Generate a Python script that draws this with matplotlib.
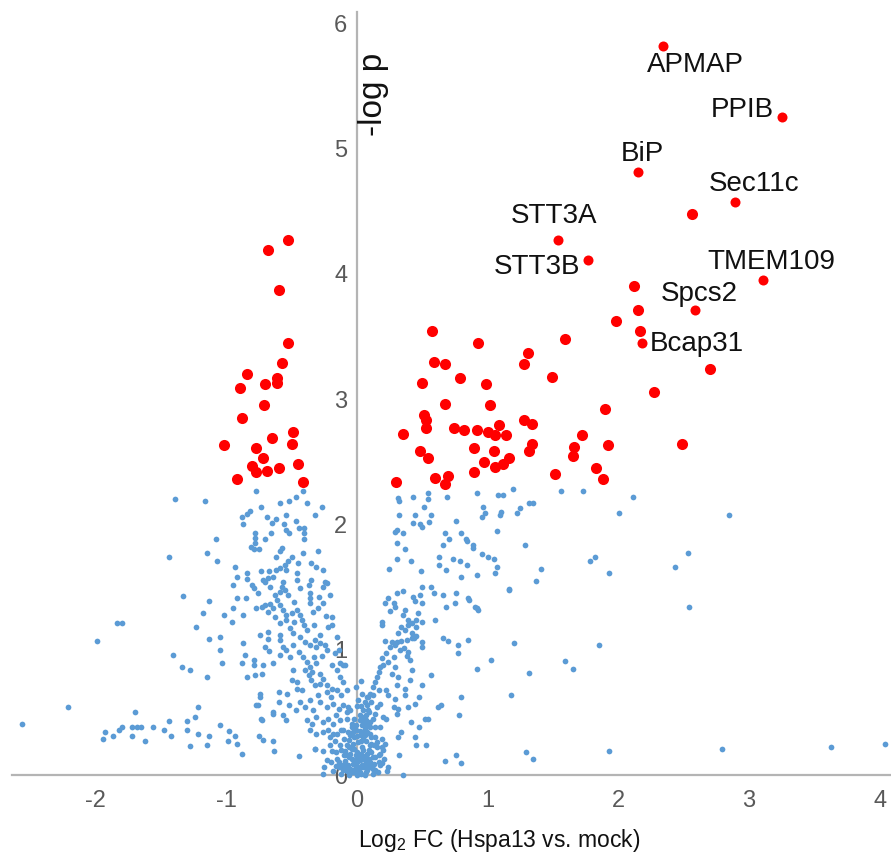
import matplotlib
matplotlib.use('Agg')
import matplotlib.pyplot as plt
import numpy as np

plt.rcParams['font.family'] = ['Liberation Sans', 'DejaVu Sans']
plt.rcParams['mathtext.fontset'] = 'custom'
plt.rcParams['mathtext.rm'] = 'Liberation Sans'

# ---------------- data (log2 FC, -log p) ----------------
blue_left = [
    (-1.39,2.20),(-1.16,2.19),(-0.77,2.27),(-1.08,1.88),(-1.145,1.77),(-1.44,1.74),(-1.07,1.71),(-1.33,1.43),
    (-1.13,1.39),(-1.84,1.21),(-1.80,1.21),(-1.18,1.29),(-1.23,1.18),(-1.99,1.07),(-1.13,1.085),(-1.05,1.10),
    (-1.05,1.00),(-1.405,0.96),(-1.035,0.89),(-1.34,0.86),(-1.28,0.84),(-1.145,0.78),(-2.215,0.54),(-2.565,0.41),
    (-1.70,0.50),(-1.22,0.54),(-1.24,0.46),(-1.44,0.43),(-1.30,0.43),(-1.05,0.40),(-1.93,0.34),(-1.945,0.285),
    (-1.865,0.31),(-1.82,0.36),(-1.80,0.38),(-1.72,0.38),(-1.685,0.38),(-1.65,0.38),(-1.72,0.31),(-1.56,0.38),
    (-1.48,0.36),(-1.42,0.31),(-1.62,0.27),(-1.30,0.36),(-1.22,0.33),(-1.13,0.31),(-1.28,0.23),(-1.145,0.24),
    (-0.98,0.35),(-0.93,0.31),(-0.99,0.27),(-0.92,0.25),(-0.88,0.17),(-0.75,0.31),(-0.72,0.28),(-0.64,0.27),
    (-0.635,0.19),(-0.44,0.15),(-0.32,0.205),(-0.26,0.01),(-0.735,0.45),(-0.64,0.49),(-0.77,0.56),
    (-0.41,2.27),(-0.47,2.22),(-0.52,2.19),(-0.59,2.17),(-0.38,2.17),(-0.27,2.14),(-0.735,2.14),(-0.82,2.11),
    (-0.84,2.08),(-0.88,2.06),(-0.87,2.00),(-0.69,2.06),(-0.65,2.01),(-0.62,2.04),(-0.545,2.075),(-0.32,2.075),
    (-0.47,2.03),(-0.56,2.00),(-0.54,1.955),(-0.52,1.93),(-0.44,1.97),(-0.405,1.97),(-0.405,1.93),(-0.405,1.88),
    (-0.78,1.93),(-0.78,1.895),(-0.78,1.85),(-0.66,1.935),(-0.70,1.88),(-0.81,1.82),(-0.79,1.80),(-0.75,1.80),
    (-0.57,1.815),(-0.59,1.79),(-0.41,1.775),(-0.30,1.79),(-0.62,1.74),(-0.50,1.74),(-0.525,1.71),(-0.55,1.68),
    (-0.59,1.65),(-0.62,1.64),(-0.455,1.695),(-0.35,1.69),(-0.31,1.66),(-0.26,1.64),(-0.93,1.66),(-0.735,1.63),
    (-0.67,1.63),(-0.84,1.61),(-0.84,1.565),(-0.915,1.58),(-0.46,1.61),(-0.46,1.56),(-0.54,1.64),(-0.72,1.555),
    (-0.68,1.575),(-0.64,1.58),(-0.35,1.56),(-0.245,1.54),(-0.945,1.52),(-0.805,1.52),(-0.79,1.49),(-0.76,1.455),
    (-0.70,1.54),(-0.665,1.50),(-0.565,1.54),(-0.575,1.50),(-0.59,1.46),(-0.55,1.475),(-0.525,1.435),(-0.435,1.49),
    (-0.37,1.52),(-0.26,1.50),(-0.23,1.53),(-0.36,1.45),(-0.36,1.41),(-0.36,1.37),(-0.21,1.44),(-0.915,1.41),
    (-0.85,1.41),(-0.63,1.44),(-0.61,1.40),(-0.59,1.36),(-0.77,1.33),(-0.73,1.34),(-0.70,1.36),(-0.665,1.365),
    (-0.945,1.33),(-0.87,1.28),(-1.02,1.28),(-0.96,1.22),(-0.63,1.26),(-0.68,1.30),(-0.645,1.33),(-0.565,1.32),
    (-0.54,1.28),(-0.54,1.24),(-0.46,1.32),(-0.435,1.28),(-0.42,1.24),(-0.405,1.20),(-0.385,1.16),(-0.335,1.30),
    (-0.30,1.33),(-0.26,1.37),(-0.19,1.26),(-0.22,1.18),(-0.59,1.21),(-0.51,1.17),(-0.49,1.13),(-0.74,1.12),
    (-0.68,1.14),(-0.59,1.12),(-0.28,1.12),(-0.155,1.10),
    (-0.87,1.05),(-0.68,1.085),(-0.70,1.025),(-0.67,0.99),(-0.855,0.96),(-0.79,0.92),(-0.79,0.88),(-0.88,0.89),
    (-0.72,0.88),(-0.64,0.89),(-0.845,0.78),(-0.78,0.80),(-0.73,0.81),(-0.59,1.08),(-0.565,1.025),(-0.59,0.96),
    (-0.54,1.00),(-0.49,1.04),(-0.51,0.945),(-0.435,1.10),(-0.40,1.06),(-0.36,1.04),(-0.32,1.08),(-0.31,1.025),
    (-0.28,1.05),(-0.245,1.04),(-0.23,1.00),(-0.41,0.945),(-0.385,0.905),(-0.36,0.865),(-0.40,0.84),(-0.345,0.825),
    (-0.37,0.80),(-0.31,0.89),(-0.28,0.81),(-0.26,0.77),(-0.19,0.88),(-0.155,0.84),(-0.105,0.88),(-0.49,0.84),
    (-0.50,0.76),(-0.46,0.745),(-0.46,0.69),(-0.35,0.76),(-0.32,0.72),(-0.28,0.73),(-0.23,0.72),(-0.23,0.665),
    (-0.19,0.69),(-0.155,0.68),(-0.13,0.785),(-0.105,0.745),(-0.08,0.68),(-0.74,0.65),(-0.74,0.625),(-0.595,0.665),
    (-0.535,0.65),(-0.755,0.56),(-0.595,0.58),(-0.52,0.56),(-0.435,0.585),(-0.40,0.545),(-0.36,0.60),(-0.335,0.52),
    (-0.28,0.585),(-0.23,0.545),(-0.18,0.57),(-0.14,0.53),(-0.105,0.56),(-0.08,0.505),(-0.64,0.50),(-0.565,0.48),
    (-0.54,0.44),(-0.73,0.44),(-0.385,0.44),(-0.345,0.41),(-0.31,0.465),(-0.26,0.425),(-0.22,0.45),(-0.18,0.41),
    (-0.13,0.44),(-0.08,0.45),(-0.04,0.41),(-0.36,0.36),(-0.31,0.33),(-0.26,0.345),(-0.21,0.305),(-0.155,0.33),
    (-0.105,0.36),(-0.055,0.32),(-0.32,0.21),(-0.26,0.19),(-0.21,0.24),
    (-0.19,1.20),(-0.14,1.00),(-0.13,0.89),(-0.09,0.88),(-0.065,0.545),
    (-0.48,1.22),(-0.33,1.20),(-0.27,0.95),(-0.44,0.98),(-0.17,0.97),(-0.12,0.64),(-0.2,0.62),(-0.3,0.64),
    (-0.42,0.68),(-0.16,0.48),(-0.47,0.52),(-0.33,0.94),(-0.24,1.27),(-0.48,1.38),(-0.29,1.42),(-0.5,1.29),
]

blue_right = [
    (0.495,1.50),(0.57,1.50),(0.59,1.45),(0.66,1.44),(0.76,1.45),(0.86,1.40),(1.16,1.48),(0.31,1.45),
    (0.355,1.47),(0.24,1.41),(0.215,1.37),(0.28,1.37),(0.29,1.34),(0.43,1.42),(0.445,1.39),(0.48,1.44),
    (0.495,1.37),(0.685,1.34),(0.75,1.37),(0.90,1.34),(0.925,1.32),(0.25,1.31),(0.37,1.32),(0.47,1.29),
    (0.455,1.24),(0.495,1.22),(0.355,1.28),(0.39,1.24),(0.42,1.21),(0.19,1.22),(0.195,1.20),(0.60,1.24),
    (0.34,1.18),(0.37,1.16),(0.39,1.20),(0.455,1.18),(0.315,1.13),(0.42,1.13),(0.45,1.11),(0.44,1.09),
    (0.215,1.07),(0.265,1.065),(0.305,1.065),(0.34,1.07),(0.38,1.08),(0.42,1.09),(0.495,1.065),(0.495,1.025),
    (0.66,1.09),(0.695,1.07),(0.77,1.04),(0.77,0.97),(0.85,1.08),(1.20,1.055),(1.025,0.92),(0.92,0.845),
    (1.18,0.64),(0.795,0.62),(0.25,1.025),(0.29,1.04),(0.33,1.00),(0.36,1.01),(0.39,0.985),(0.38,0.95),
    (0.405,0.92),(0.19,0.93),(0.225,0.97),(0.24,0.905),(0.28,0.945),(0.175,0.865),(0.20,0.88),(0.165,0.825),
    (0.15,0.785),(0.29,0.865),(0.265,0.81),(0.315,0.785),(0.42,0.84),(0.405,0.76),(0.565,0.80),(0.495,0.72),
    (0.305,0.72),(0.37,0.69),(0.37,0.64),(0.14,0.745),(0.125,0.705),(0.10,0.65),(0.085,0.625),(0.125,0.64),
    (0.165,0.68),(0.225,0.68),(0.24,0.64),(0.29,0.61),(0.28,0.545),(0.315,0.53),(0.305,0.49),(0.475,0.625),
    (0.445,0.57),(0.39,0.545),(0.62,0.545),(0.64,0.56),(0.075,0.56),(0.11,0.585),(0.15,0.545),(0.175,0.57),
    (0.085,0.52),(0.14,0.49),(0.20,0.465),(0.225,0.45),(0.78,0.48),(0.52,0.445),(0.54,0.445),(0.41,0.425),
    (0.475,0.385),(0.02,0.44),(0.06,0.41),(0.10,0.425),(0.14,0.385),(0.175,0.385),(0.05,0.345),(0.10,0.33),
    (0.14,0.305),(0.19,0.29),(0.335,0.345),(0.445,0.305),(0.315,0.30),(0.455,0.24),(0.525,0.24),(0.15,0.265),
    (0.19,0.225),(0.215,0.25),(0.325,0.16),(0.175,0.17),(0.165,0.105),(0.19,0.095),(0.76,0.16),(0.675,0.11),
    (0.795,0.095),(0.355,0.0),(0.23,0.035),
    (0.325,2.19),(0.325,2.075),(0.29,1.94),(0.31,1.955),(0.43,2.22),(0.54,2.25),(0.54,2.20),(0.51,2.14),
    (0.69,2.22),(0.445,2.075),(0.57,2.075),(0.555,2.02),(0.43,2.01),(0.48,2.00),(0.495,1.98),(0.355,1.93),
    (0.31,1.855),(0.37,1.80),(0.31,1.725),(0.415,1.71),(0.245,1.645),(0.49,1.63),(0.915,2.25),(1.08,2.235),
    (1.12,2.235),(1.195,2.28),(0.965,2.14),(0.98,2.09),(0.955,2.06),(1.105,2.10),(1.095,2.075),(1.245,2.135),
    (1.225,2.09),(1.32,2.17),(1.35,2.17),(1.56,2.27),(1.73,2.27),(2.115,2.22),(2.005,2.09),(0.76,2.03),
    (0.675,1.93),(0.705,1.88),(0.66,1.835),(0.80,1.93),(0.835,1.88),(0.845,1.87),(0.89,1.835),(0.89,1.815),
    (1.07,1.95),(1.285,1.835),(0.625,1.74),(0.625,1.675),(0.68,1.64),(0.735,1.725),(0.79,1.71),(0.845,1.675),
    (0.955,1.76),(1.00,1.74),(1.045,1.725),(1.07,1.66),(1.055,1.61),(0.80,1.58),(0.92,1.595),(1.41,1.645),
    (1.37,1.55),(1.165,1.485),(1.78,1.71),(1.825,1.74),(1.93,1.61),(0.85,1.41),(0.915,1.33),(1.32,0.815),
    (1.595,0.91),(1.655,0.845),(1.855,1.04),(1.29,0.18),(1.35,0.13),(1.93,0.19),
    (2.85,2.075),(2.435,1.66),(2.53,1.775),(2.54,1.34),(2.79,0.205),(3.63,0.22),(4.04,0.25),(0.315,2.21),
]

blue_core = [
    (-0.02,0.02),(0.01,0.03),(0.03,0.01),(-0.05,0.05),(0.05,0.06),(-0.08,0.03),(0.08,0.04),(-0.11,0.08),
    (0.10,0.10),(-0.03,0.09),(0.02,0.12),(-0.06,0.14),(0.06,0.15),(-0.10,0.16),(0.12,0.05),(-0.14,0.06),
    (0.00,0.18),(-0.04,0.21),(0.04,0.22),(-0.08,0.24),(0.09,0.20),(-0.12,0.20),(0.01,0.26),(-0.02,0.30),
    (0.03,0.32),(-0.06,0.28),(0.07,0.27),(-0.15,0.13),(0.14,0.14),(-0.18,0.03),(0.16,0.02),(-0.01,0.36),
    (0.04,0.40),(-0.04,0.38),(0.07,0.44),(-0.07,0.34),(0.11,0.30),(-0.10,0.29),(0.02,0.48),(-0.02,0.45),
    (0.05,0.52),(0.00,0.55),(-0.09,0.11),(0.11,0.18),(-0.13,0.24),(0.13,0.24),(-0.16,0.18),(0.06,0.09),
    (-0.01,0.07),(0.03,0.17),(-0.05,0.17),(0.08,0.34),(-0.03,0.25),(0.00,0.10),(0.02,0.06),(-0.07,0.08),
    (0.09,0.13),(-0.20,0.10),(0.18,0.08),(-0.12,0.01),(0.12,0.01),(0.06,0.00),(-0.06,0.00),(0.00,0.00),
    (0.15,0.22),(-0.17,0.27),(0.01,0.60),(0.04,0.65),(-0.01,0.70),(0.03,0.75),(0.06,0.58),(0.08,0.62),
    (-0.23,0.12),(-0.25,0.06),(0.21,0.13),(0.24,0.06),(-0.09,0.19),(0.05,0.29),(-0.04,0.13),(0.08,0.17),
    (0.10,0.38),(0.04,0.46),(-0.12,0.36),(-0.18,0.33),(-0.22,0.36),(0.01,0.14),(-0.11,0.04),(0.13,0.09),
    (0.07,0.02),(-0.03,0.04),(0.02,0.35),(0.09,0.50),(-0.05,0.52),(0.12,0.45),(-0.01,0.40),(0.06,0.37),
    (-0.01,0.16),(0.04,0.08),(0.07,0.12),(-0.04,0.02),(0.10,0.24),(0.05,0.20),(-0.02,0.21),(0.00,0.05),
    (0.03,0.27),(0.06,0.32),(-0.08,0.16),(-0.14,0.10),(0.10,0.06),(0.14,0.04),(-0.16,0.07),(0.02,0.02),
    (0.08,0.08),(-0.02,0.12),(0.12,0.14),(0.04,0.13),(-0.06,0.22),(0.09,0.39),(0.03,0.55),(0.00,0.31),
    (-0.09,0.05),(0.11,0.25),(0.05,0.43),(-0.03,0.34),(0.17,0.16),(0.2,0.2),(-0.19,0.19),(0.07,0.48),
]

red_left = [
    (-0.525,4.27),(-0.68,4.19),(-0.60,3.87),(-0.525,3.45),(-0.57,3.29),(-0.845,3.20),(-0.895,3.09),(-0.70,3.12),
    (-0.61,3.17),(-0.61,3.13),(-0.71,2.95),(-0.88,2.85),(-0.49,2.74),(-0.65,2.69),(-1.02,2.63),(-0.495,2.64),
    (-0.77,2.61),(-0.72,2.53),(-0.805,2.47),(-0.77,2.42),(-0.69,2.43),(-0.60,2.45),(-0.45,2.48),(-0.92,2.36),
    (-0.415,2.34),
]

red_right = [
    (0.576,3.54),(0.93,3.45),(0.59,3.30),(0.67,3.28),(1.31,3.37),(1.28,3.28),(0.50,3.13),(0.79,3.17),
    (0.99,3.12),(0.67,2.96),(1.02,2.95),(0.51,2.87),(0.53,2.83),(0.53,2.77),(0.35,2.72),(0.745,2.77),
    (0.82,2.75),(0.915,2.75),(1.00,2.74),(1.09,2.79),(1.06,2.71),(1.14,2.71),(1.28,2.83),(1.34,2.80),
    (0.48,2.59),(0.545,2.53),(0.895,2.61),(1.05,2.59),(0.97,2.50),(1.06,2.46),(1.12,2.48),(1.165,2.53),
    (1.34,2.64),(1.32,2.59),(0.30,2.34),(0.60,2.37),(0.67,2.32),(0.70,2.39),(0.895,2.42),
    (2.565,4.48),(2.12,3.90),(2.15,3.71),(1.98,3.62),(2.165,3.54),(1.59,3.48),(2.70,3.24),(1.49,3.18),
    (2.275,3.06),(1.90,2.92),(1.72,2.71),(1.92,2.63),(2.49,2.64),(1.66,2.62),(1.65,2.55),(1.83,2.45),
    (1.515,2.40),(1.88,2.36),
]

gene_names = ['APMAP', 'PPIB', 'BiP', 'Sec11c', 'STT3A', 'STT3B', 'TMEM109', 'Spcs2', 'Bcap31']
gene_fc    = [2.34, 3.25, 2.15, 2.89, 1.54, 1.77, 3.11, 2.59, 2.18]
gene_logp  = [5.82, 5.25, 4.81, 4.57, 4.27, 4.11, 3.95, 3.71, 3.45]

x_ticks = [-2, -1, 0, 1, 2, 3, 4]
y_ticks = [0, 1, 2, 3, 4, 5, 6]
x_label = r'Log$_{2}$ FC (Hspa13 vs. mock)'
y_label = '-log p'

# label offsets (points) - styling
label_offsets = {
    'APMAP': (23.5, -14), 'PPIB': (-28, 5), 'BiP': (3, 13), 'Sec11c': (14, 13),
    'STT3A': (-3, 17), 'STT3B': (-37, -5), 'TMEM109': (6, 13), 'Spcs2': (2.5, 12),
    'Bcap31': (39.5, -1),
}

# ---------------- figure ----------------
W, H = 891, 859
fig = plt.figure(figsize=(W / 100, H / 100), dpi=100)
ax = fig.add_axes([12 / W, 1 - 775 / H, (W - 12) / W, (775 - 12) / H])
ax.set_xlim(-2.64, 4.087)
ax.set_ylim(0, 6.09)

BLUE = '#5b9bd5'
RED = '#ff0000'

for grp in (blue_left, blue_right, blue_core):
    arr = np.array(grp)
    ax.scatter(arr[:, 0], arr[:, 1], s=17, color=BLUE, linewidths=0, zorder=2, clip_on=False)

for grp in (red_left, red_right):
    arr = np.array(grp)
    ax.scatter(arr[:, 0], arr[:, 1], s=64, color=RED, linewidths=0, zorder=3)

ax.scatter(gene_fc, gene_logp, s=52, color=RED, linewidths=0, zorder=3)
for name, gx, gy in zip(gene_names, gene_fc, gene_logp):
    ax.annotate(name, (gx, gy), xytext=label_offsets[name], textcoords='offset points',
                ha='center', va='center', fontsize=20, color='#111111', zorder=4)

# spines
for s in ('top', 'right'):
    ax.spines[s].set_visible(False)
ax.spines['left'].set_position(('data', 0))
for s in ('left', 'bottom'):
    ax.spines[s].set_color('#b4b4b4')
    ax.spines[s].set_linewidth(1.6)
    ax.spines[s].set_zorder(1)

ax.set_xticks(x_ticks)
ax.set_xticklabels([str(t) for t in x_ticks])
ax.set_yticks(y_ticks)
ax.set_yticklabels([str(t) for t in y_ticks])
ax.tick_params(axis='both', length=0, labelsize=17, labelcolor='#595959')
ax.tick_params(axis='x', pad=11)
ax.tick_params(axis='y', pad=7)

# axis titles
fig.text(358 / W, 1 - 847 / H, x_label, ha='left', va='baseline', fontsize=16.5, color='#111111')
ax.text(0.13, 5.43, y_label, rotation=90, ha='center', va='center', fontsize=24, color='#111111')

fig.savefig('out.png', dpi=100)
